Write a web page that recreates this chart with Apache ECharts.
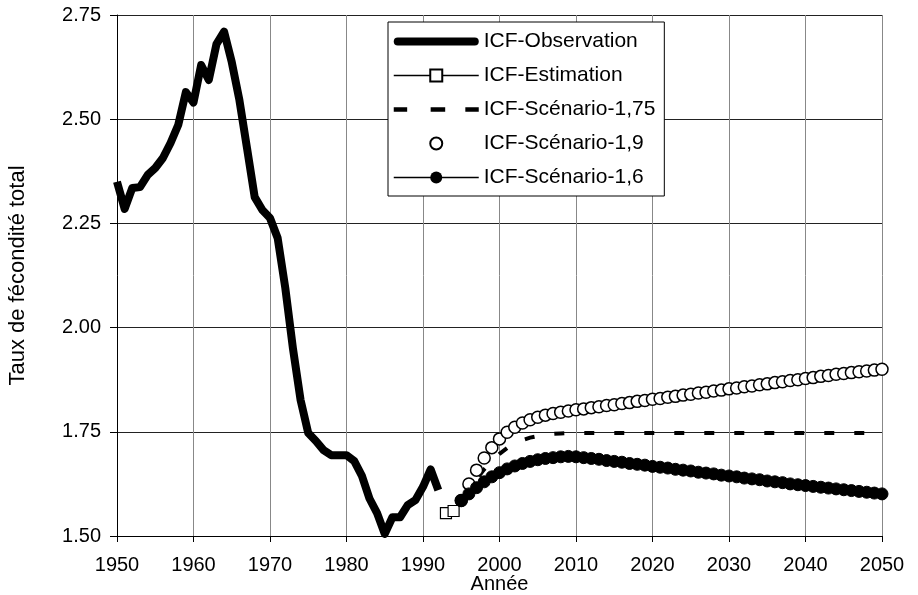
<!DOCTYPE html>
<html>
<head>
<meta charset="utf-8">
<script src="https://cdn.jsdelivr.net/npm/echarts@6/dist/echarts.min.js"></script>
<style>
html, body { margin: 0; padding: 0; background: #fff; }
#chart { width: 918px; height: 595px; }
</style>
</head>
<body>
<div id="chart"></div>
<script>
// ICF observé 1950-1992
var obsStart = 1950;
var obsValues = [2.35, 2.285, 2.335, 2.337, 2.366, 2.383, 2.407, 2.443, 2.486, 2.565,
  2.54, 2.63, 2.594, 2.68, 2.71, 2.637, 2.546, 2.43, 2.313, 2.282,
  2.263, 2.215, 2.095, 1.95, 1.826, 1.747, 1.728, 1.706, 1.694, 1.694,
  1.694, 1.68, 1.645, 1.59, 1.555, 1.505, 1.545, 1.545, 1.574, 1.586,
  1.618, 1.66, 1.61];

// estimation 1993-1994
var estStart = 1993;
var estValues = [1.555, 1.56];

// scénarios 1995-2050
var scenStart = 1995;
var scen175 = [1.585, 1.612, 1.637, 1.66, 1.68, 1.697, 1.711, 1.722, 1.73, 1.736,
  1.74, 1.743, 1.745, 1.746, 1.747, 1.747, 1.747, 1.747, 1.747, 1.747,
  1.747, 1.747, 1.747, 1.747, 1.747, 1.747, 1.747, 1.747, 1.747, 1.747,
  1.747, 1.747, 1.747, 1.747, 1.747, 1.747, 1.747, 1.747, 1.747, 1.747,
  1.747, 1.747, 1.747, 1.747, 1.747, 1.747, 1.747, 1.747, 1.747, 1.747,
  1.747, 1.747, 1.747, 1.747, 1.747, 1.747];
var scen19 = [1.585, 1.625, 1.658, 1.687, 1.712, 1.733, 1.749, 1.761, 1.771, 1.779,
  1.785, 1.79, 1.794, 1.797, 1.8, 1.803,
  1.805, 1.808, 1.81, 1.813, 1.815, 1.818, 1.82, 1.823, 1.825, 1.828,
  1.83, 1.833, 1.835, 1.838, 1.84, 1.843, 1.845, 1.848, 1.85, 1.853,
  1.855, 1.858, 1.86, 1.863, 1.865, 1.868, 1.87, 1.873, 1.875, 1.878,
  1.88, 1.883, 1.885, 1.888, 1.89, 1.892, 1.894, 1.896, 1.898, 1.9];
var scen16 = [1.585, 1.601, 1.616, 1.63, 1.642, 1.652, 1.661, 1.668, 1.674, 1.679,
  1.683, 1.686, 1.688, 1.69, 1.691, 1.69,
  1.688, 1.686, 1.684, 1.681, 1.679, 1.677, 1.674, 1.672, 1.67, 1.667,
  1.665, 1.663, 1.66, 1.658, 1.656, 1.653, 1.651, 1.649, 1.646, 1.644,
  1.642, 1.639, 1.637, 1.635, 1.632, 1.63, 1.628, 1.625, 1.623, 1.621,
  1.619, 1.617, 1.615, 1.613, 1.611, 1.609, 1.607, 1.605, 1.603, 1.601];

var seriesNames = ['ICF-Observation', 'ICF-Estimation', 'ICF-Scénario-1,75', 'ICF-Scénario-1,9', 'ICF-Scénario-1,6'];

function pairs(start, vals) {
  var res = [];
  for (var i = 0; i < vals.length; i++) {
    res.push([start + i, vals[i]]);
  }
  return res;
}

var font = 'Liberation Sans, Arial, sans-serif';
var chart = echarts.init(document.getElementById('chart'));

var option = {
  animation: false,
  backgroundColor: '#fff',
  grid: { left: 117, right: 36, top: 15, bottom: 59, outerBoundsMode: 'none', containLabel: false },
  legend: {
    orient: 'vertical',
    left: 388,
    top: 22,
    padding: [9, 9, 8, 5],
    itemGap: 13,
    itemWidth: 85,
    itemHeight: 15,
    borderColor: '#000',
    borderWidth: 1,
    backgroundColor: '#fff',
    lineStyle: { width: 'inherit' },
    textStyle: { fontFamily: font, fontSize: 21, color: '#000' },
    data: [
      { name: seriesNames[0], icon: 'path://M4,0H81A4,4 0 0 1 81,8H4A4,4 0 0 1 4,0Z' },
      { name: seriesNames[1] },
      { name: seriesNames[2], icon: 'path://M2,0H14V4H2Z M35,0H48V4H35Z M66,0H78V4H66Z' },
      { name: seriesNames[3] },
      { name: seriesNames[4] }
    ]
  },
  xAxis: {
    type: 'value',
    min: 1950,
    max: 2050,
    interval: 10,
    name: 'Année',
    nameLocation: 'middle',
    nameGap: 38,
    nameMoveOverlap: false,
    nameTextStyle: { fontFamily: font, fontSize: 20, color: '#000' },
    axisLine: { lineStyle: { color: '#000', width: 1 } },
    axisTick: { length: 6, lineStyle: { color: '#000' } },
    axisLabel: {
      fontFamily: font, fontSize: 20, color: '#000', margin: 19,
      formatter: function (v) { return String(v); }
    },
    splitLine: { show: true, lineStyle: { color: '#888', width: 1 } }
  },
  yAxis: {
    type: 'value',
    min: 1.5,
    max: 2.75,
    interval: 0.25,
    name: 'Taux de fécondité total',
    nameLocation: 'middle',
    nameGap: 88,
    nameMoveOverlap: false,
    nameTextStyle: { fontFamily: font, fontSize: 22, color: '#000' },
    axisLine: { show: true, lineStyle: { color: '#000', width: 1 } },
    axisTick: { show: true, length: 7, lineStyle: { color: '#000' } },
    axisLabel: {
      fontFamily: font, fontSize: 20, color: '#000', margin: 16,
      formatter: function (v) { return v.toFixed(2); }
    },
    splitLine: { show: true, lineStyle: { color: '#222', width: 1 } }
  },
  series: [
    {
      name: seriesNames[0],
      type: 'line',
      data: pairs(obsStart, obsValues),
      symbol: 'none',
      lineStyle: { color: '#000', width: 8, join: 'round' },
      itemStyle: { color: '#000' },
      z: 5
    },
    {
      name: seriesNames[1],
      type: 'line',
      data: pairs(estStart, estValues),
      symbol: 'rect',
      symbolSize: 11,
      lineStyle: { color: '#000', width: 1.5 },
      itemStyle: { color: '#fff', borderColor: '#000', borderWidth: 1.2 },
      z: 4
    },
    {
      name: seriesNames[2],
      type: 'line',
      data: pairs(scenStart, scen175),
      symbol: 'none',
      lineStyle: { color: '#000', width: 4, type: [10, 20] },
      itemStyle: { color: '#000' },
      z: 3
    },
    {
      name: seriesNames[3],
      type: 'line',
      data: pairs(scenStart, scen19),
      symbol: 'circle',
      symbolSize: 12,
      lineStyle: { width: 0, opacity: 0 },
      itemStyle: { color: '#fff', borderColor: '#000', borderWidth: 1.5 },
      z: 4
    },
    {
      name: seriesNames[4],
      type: 'line',
      data: pairs(scenStart, scen16),
      symbol: 'circle',
      symbolSize: 12,
      lineStyle: { color: '#000', width: 1.5 },
      itemStyle: { color: '#000', borderColor: '#000' },
      z: 5
    }
  ]
};

chart.setOption(option);
window.onresize = chart.resize;
</script>
</body>
</html>
